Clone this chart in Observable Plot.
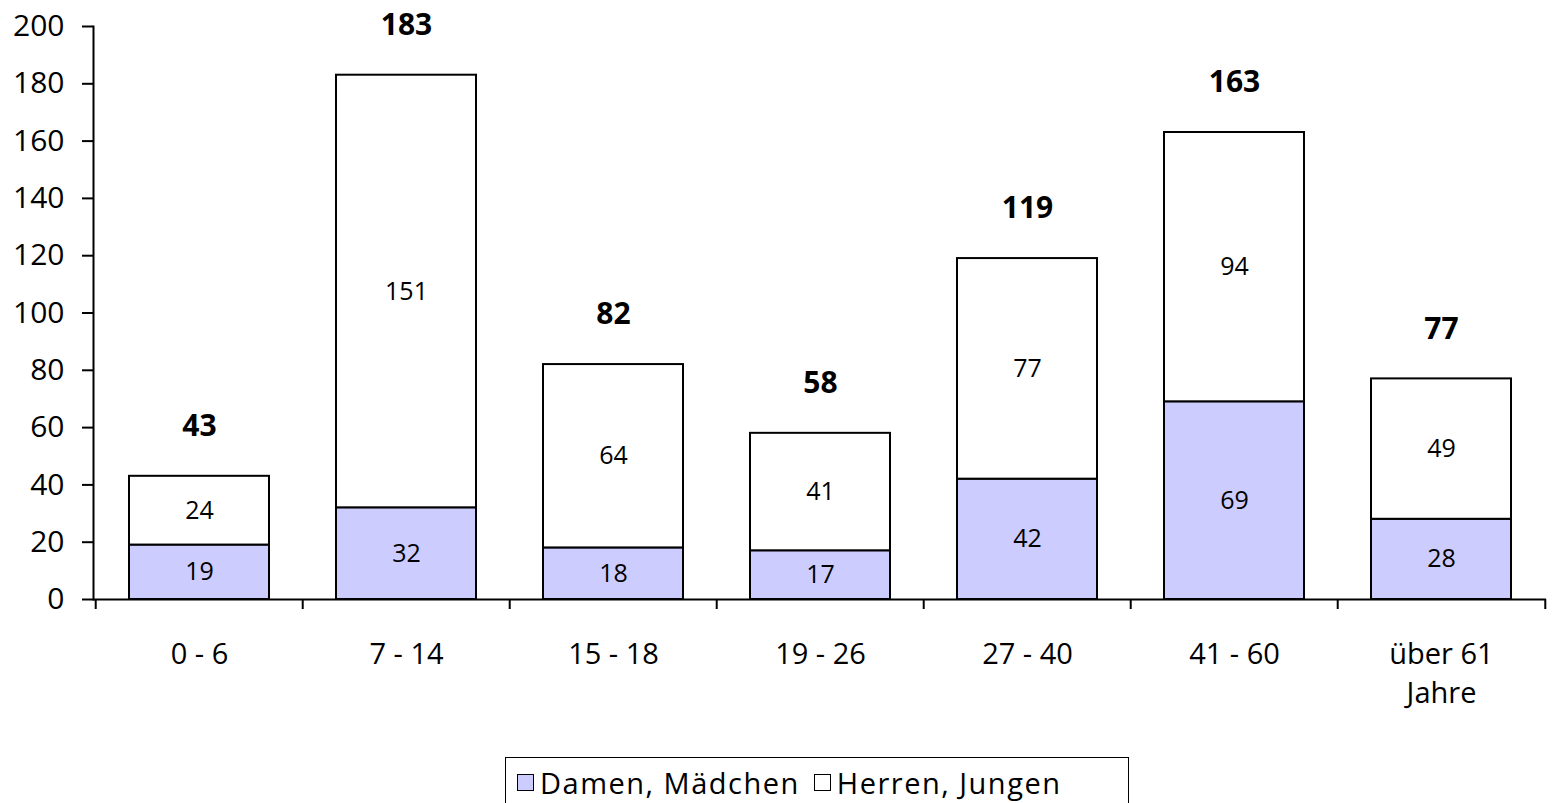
<!DOCTYPE html>
<html><head><meta charset="utf-8">
<script src="https://cdn.jsdelivr.net/npm/d3@7"></script>
<script src="https://cdn.jsdelivr.net/npm/@observablehq/plot@0.6"></script>
<style>
body{margin:0;background:#fff;font-family:"Open Sans",sans-serif;}
#legend{position:absolute;left:505px;top:757px;width:624px;height:60px;border:1.5px solid #000;border-bottom:none;box-sizing:border-box;display:flex;align-items:flex-start;padding-top:5px;padding-left:11px;font-size:29px;letter-spacing:1.5px;color:#000;white-space:nowrap;}
.sw{display:inline-block;width:15px;height:15px;border:1.5px solid #000;margin-right:6px;vertical-align:middle;}
.item{display:inline-flex;align-items:center;margin-right:14px;}
</style></head>
<body>
<div id="chart"></div>
<div id="legend"></div>
<script>
const categories = ["0 - 6", "7 - 14", "15 - 18", "19 - 26", "27 - 40", "41 - 60", "über 61\nJahre"];
const seriesNames = ["Damen, Mädchen", "Herren, Jungen"];
const damen = [19, 32, 18, 17, 42, 69, 28];
const herren = [24, 151, 64, 41, 77, 94, 49];
const totals = [43, 183, 82, 58, 119, 163, 77];
const yTicks = [0, 20, 40, 60, 80, 100, 120, 140, 160, 180, 200];
const colors = ["#CCCCFF", "#FFFFFF"];

const rows = [];
categories.forEach((c, i) => {
  rows.push({cat: c, sex: seriesNames[0], value: damen[i]});
  rows.push({cat: c, sex: seriesNames[1], value: herren[i]});
});
const totalRows = categories.map((c, i) => ({cat: c, total: totals[i]}));

const W = 1552, H = 745, mL = 93, mR = 6, mT = 26, mB = 146;
const step = (W - mL - mR) / categories.length;

const chart = Plot.plot({
  width: W, height: H,
  marginLeft: mL, marginRight: mR, marginTop: mT, marginBottom: mB,
  style: {fontFamily: "Open Sans", fontSize: "30px", color: "#000", background: "#fff"},
  x: {domain: categories, paddingInner: 0.3255, paddingOuter: 0.163, label: null},
  y: {domain: [0, 200], label: null},
  color: {domain: seriesNames, range: colors},
  marks: [
    Plot.barY(rows, {x: "cat", y: "value", fill: "sex", stroke: "#000", strokeWidth: 2, order: seriesNames}),
    Plot.text(rows, Plot.stackY({x: "cat", y: "value", z: "sex", text: "value", order: seriesNames, fontSize: 25, fill: "#000"})),
    Plot.text(totalRows, {x: "cat", y: "total", text: "total", dy: -50, fontSize: 30, fontWeight: "bold", fill: "#000"}),
    Plot.axisY({ticks: yTicks, tickSize: 11, tickPadding: 18, fontSize: 30, strokeWidth: 2, label: null}),
    Plot.axisX({tickSize: 0, tickPadding: 36, fontSize: 29, lineHeight: 1.36, label: null}),
    Plot.axisX({tickSize: 10, dx: -step / 2, tickFormat: () => "", strokeWidth: 2, label: null}),
    Plot.axisX({ticks: [categories[categories.length - 1]], tickSize: 10, dx: step / 2, tickFormat: () => "", strokeWidth: 2, label: null}),
    Plot.ruleY([0], {stroke: "#000", strokeWidth: 2}),
    Plot.frame({anchor: "left", stroke: "#000", strokeWidth: 2})
  ]
});
document.getElementById("chart").appendChild(chart);

const legend = document.getElementById("legend");
seriesNames.forEach((n, i) => {
  const it = document.createElement("span");
  it.className = "item";
  const sw = document.createElement("span");
  sw.className = "sw";
  sw.style.background = colors[i];
  it.appendChild(sw);
  it.appendChild(document.createTextNode(n));
  legend.appendChild(it);
});
</script>
</body></html>
